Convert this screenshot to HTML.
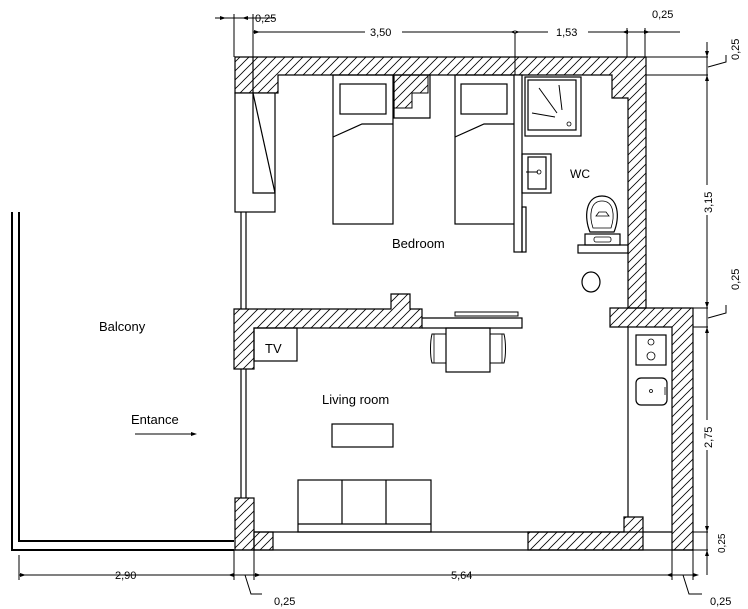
<!DOCTYPE html>
<html><head><meta charset="utf-8"><style>
html,body{margin:0;padding:0;background:#fff;}
svg{display:block;}
text{font-family:"Liberation Sans",sans-serif;fill:#000;}
</style></head><body>
<svg width="748" height="609" viewBox="0 0 748 609" xmlns="http://www.w3.org/2000/svg">
<defs>
<pattern id="h" patternUnits="userSpaceOnUse" width="9" height="9">
<line x1="0" y1="9" x2="9" y2="0" stroke="#000" stroke-width="0.8"/>
<line x1="-1" y1="1" x2="1" y2="-1" stroke="#000" stroke-width="0.8"/>
<line x1="8" y1="10" x2="10" y2="8" stroke="#000" stroke-width="0.8"/>
</pattern>
</defs>
<g fill="none" stroke="#000" stroke-width="1.2">
<!-- top wall -->
<path d="M235 57 H646 V308 H628 V98 H612 V75 H278 V93 H235 Z" fill="url(#h)"/>
<line x1="646" y1="57" x2="708" y2="57" stroke-width="1"/>
<line x1="646" y1="75" x2="708" y2="75" stroke-width="1"/>
<!-- window top-left -->
<rect x="235" y="93" width="40" height="119" fill="#fff"/>
<path d="M253 57 V193 H275"/>
<line x1="253" y1="93" x2="275" y2="193"/>
<!-- notch between beds -->
<path d="M394 75 H430 V118 H394 Z"/>
<path d="M394 75 H428 L428 93 H412 V108 H394 Z" fill="url(#h)" stroke-width="1"/>
<!-- beds -->
<rect x="333" y="75" width="60" height="149"/>
<rect x="340" y="84" width="46" height="30"/>
<path d="M333 137 L362 124 H393"/>
<rect x="455" y="75" width="60" height="149"/>
<rect x="461" y="84" width="46" height="30"/>
<path d="M455 137 L484 124 H515"/>
<!-- WC partition -->
<rect x="514" y="75" width="8" height="177" fill="#fff"/>
<rect x="522" y="207" width="4" height="45"/>
<line x1="515" y1="32" x2="515" y2="75" stroke-width="1"/>
<!-- shower -->
<rect x="525" y="77" width="56" height="59"/>
<rect x="528" y="80" width="48" height="50"/>
<path d="M539 88 L557 113 M559 85 L562 110 M532 113 L555 117" stroke-width="1"/>
<circle cx="569" cy="124" r="2" stroke-width="0.8"/>
<!-- sink -->
<rect x="522" y="154" width="29" height="39"/>
<rect x="528" y="157" width="18" height="32"/>
<path d="M526 172 H538" stroke-width="1"/><circle cx="539" cy="172" r="2" stroke-width="0.8"/>
<!-- toilet -->
<path d="M590 232 C584 218 585 196 602 196 C619 196 620 218 614 232 Z"/>
<path d="M593 228 C589 216 590 201 602 201 C614 201 615 216 611 228 Z" stroke-width="0.8"/>
<path d="M596 216 L599 212 H606 L609 216 Z" stroke-width="0.8"/>
<rect x="585" y="234" width="35" height="11"/>
<rect x="594" y="237" width="17" height="5" rx="2" stroke-width="0.8"/>
<rect x="578" y="245" width="50" height="8"/>
<ellipse cx="591" cy="282" rx="9" ry="10"/>
<!-- WC bottom wall / kitchen -->
<path d="M610 308 H693 V550 H672 V327 H610 Z" fill="url(#h)"/>
<line x1="693" y1="308" x2="708" y2="308" stroke-width="1"/>
<line x1="693" y1="327" x2="708" y2="327" stroke-width="1"/>
<line x1="628" y1="327" x2="628" y2="517"/>
<rect x="636" y="335" width="30" height="30"/>
<circle cx="651" cy="342" r="3" stroke-width="0.8"/>
<circle cx="651" cy="356" r="4" stroke-width="0.8"/>
<rect x="636" y="378" width="31" height="27" rx="5"/>
<circle cx="651" cy="391" r="1.5" stroke-width="0.8"/>
<path d="M665 387 V395" stroke-width="0.8"/>
<!-- bottom wall -->
<path d="M528 532 H624 V517 H643 V550 H528 Z" fill="url(#h)"/>
<line x1="254" y1="532" x2="672" y2="532"/>
<line x1="19" y1="550" x2="693" y2="550"/>
<line x1="693" y1="532" x2="708" y2="532" stroke-width="1"/>
<line x1="693" y1="550" x2="708" y2="550" stroke-width="1"/>
<line x1="19" y1="575" x2="693" y2="575" stroke-width="1"/>
<rect x="254" y="532" width="19" height="18" fill="url(#h)"/>
<rect x="235" y="498" width="19" height="52" fill="url(#h)"/>
<!-- left window lines -->
<line x1="241" y1="212" x2="241" y2="309"/>
<line x1="246" y1="212" x2="246" y2="309"/>
<line x1="241" y1="369" x2="241" y2="498"/>
<line x1="246" y1="369" x2="246" y2="498"/>
<!-- living wall -->
<path d="M234 309 H391 V294 H410 V309 H422 V328 H254 V369 H234 Z" fill="url(#h)"/>
<rect x="254" y="328" width="43" height="33"/>
<path d="M422 318 H522 V328 H422"/>
<rect x="455" y="312" width="63" height="4" stroke-width="1"/>
<rect x="446" y="328" width="44" height="44"/>
<path d="M446 334 H432 C430 342 430 356 432 363 H446" stroke-width="1"/>
<path d="M434 334 V363" stroke-width="0.8"/>
<path d="M490 334 H504 C506 342 506 356 504 363 H490" stroke-width="1"/>
<path d="M502 334 V363" stroke-width="0.8"/>
<rect x="332" y="424" width="61" height="23"/>
<!-- sofa -->
<rect x="298" y="480" width="133" height="52"/>
<line x1="298" y1="524" x2="431" y2="524"/>
<line x1="342" y1="480" x2="342" y2="524"/>
<line x1="386" y1="480" x2="386" y2="524"/>
<!-- balcony -->
<path d="M12 212 V550 H234" stroke-width="2"/>
<path d="M19 212 V541 H234" stroke-width="2"/>
<!-- dimensions -->
<g stroke-width="1">
<line x1="215" y1="18" x2="275" y2="18"/>
<line x1="234" y1="14" x2="234" y2="57"/>
<line x1="253" y1="14" x2="253" y2="57"/>
<line x1="253" y1="32" x2="365" y2="32"/><line x1="402" y1="32" x2="548" y2="32"/><line x1="588" y1="32" x2="680" y2="32"/>
<line x1="627" y1="28" x2="627" y2="57"/>
<line x1="645" y1="28" x2="645" y2="57"/>
<line x1="707" y1="42" x2="707" y2="185"/><line x1="707" y1="215" x2="707" y2="420"/><line x1="707" y1="450" x2="707" y2="575"/>
<line x1="19" y1="555" x2="19" y2="580"/>
<line x1="234" y1="550" x2="234" y2="580"/>
<line x1="254" y1="550" x2="254" y2="580"/>
<line x1="672" y1="550" x2="672" y2="580"/>
<line x1="693" y1="550" x2="693" y2="580"/>
<path d="M245 575 L251 594 H262"/>
<path d="M683 575 L689 594 H702"/>
<path d="M708 67 L726 62 V55"/>
<path d="M708 318 L726 313 V305"/>
</g>
<g fill="#000" stroke="none">
<path d="M226 18 l-6 -2 v4 z M242 18 l6 -2 v4 z M260 32 l-6 -2 v4 z M510 32 l6 -2 v4z M520 32 l-6 -2 v4z M622 32 l6 -2 v4z M650 32 l-6 -2 v4z M707 57 l-2 -6 h4z M707 75 l-2 6 h4z M707 308 l-2 -6 h4z M707 327 l-2 6 h4z M707 532 l-2 -6 h4z M707 550 l-2 6 h4z M26 575 l-6 -2 v4z M228 575 l6 -2 v4z M261 575 l-6 -2 v4z M666 575 l6 -2 v4z M699 575 l-6 -2 v4z M197 434 l-6 -2 v4z"/>
</g>
<line x1="135" y1="434" x2="193" y2="434" stroke-width="1"/>
</g>
<g font-size="11">
<text x="255" y="22">0,25</text>
<text x="370" y="36">3,50</text>
<text x="556" y="36">1,53</text>
<text x="652" y="18">0,25</text>
<text x="115" y="579">2,90</text>
<text x="451" y="579">5,64</text>
<text x="274" y="605">0,25</text>
<text x="710" y="605">0,25</text>
<text transform="translate(739,60) rotate(-90)">0,25</text>
<text transform="translate(712,213) rotate(-90)">3,15</text>
<text transform="translate(739,290) rotate(-90)">0,25</text>
<text transform="translate(712,448) rotate(-90)">2,75</text>
<text transform="translate(725,553) rotate(-90)" font-size="10">0,25</text>
</g>
<g font-size="13">
<text x="392" y="248">Bedroom</text>
<text x="99" y="331">Balcony</text>
<text x="322" y="404">Living room</text>
<text x="131" y="424">Entance</text>
<text x="265" y="353">TV</text>
<text x="570" y="178" font-size="12">WC</text>
</g>
</svg>
</body></html>
